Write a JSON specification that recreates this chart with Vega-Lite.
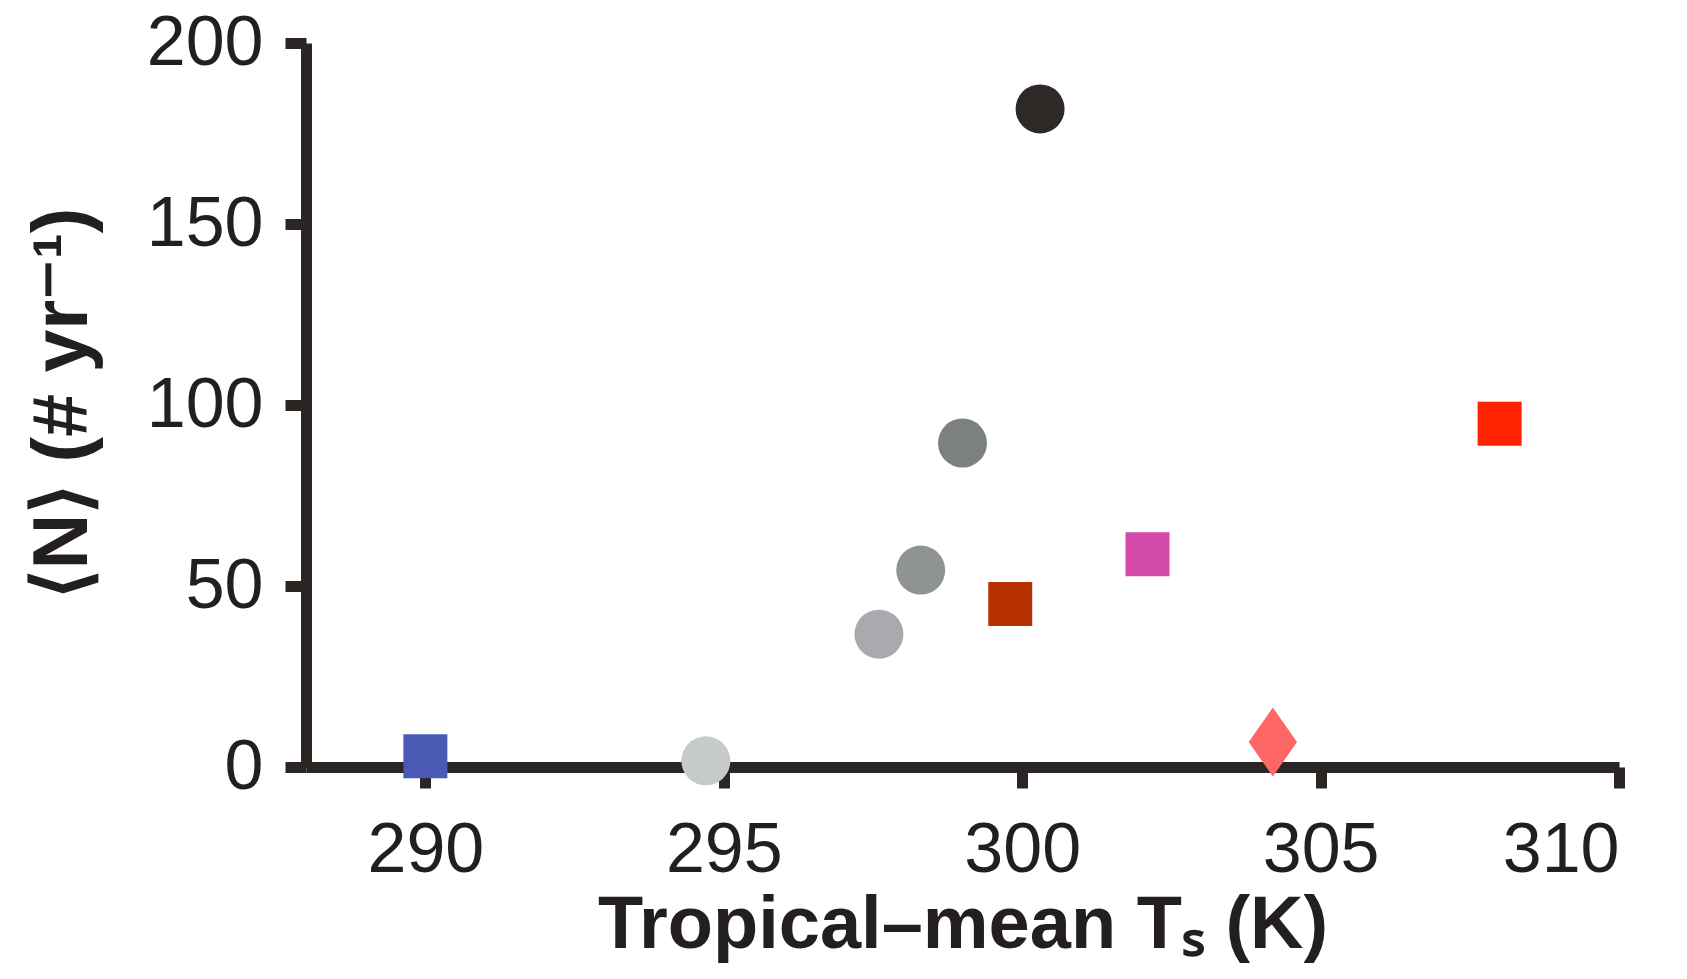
{
  "$schema": "https://vega.github.io/schema/vega-lite/v6.json",
  "width": 1313,
  "height": 724,
  "autosize": "none",
  "padding": {"left": 306, "top": 43, "right": 68, "bottom": 212},
  "background": "white",
  "config": {
    "view": {"stroke": null},
    "axis": {
      "grid": false,
      "domainColor": "#2b2523",
      "tickColor": "#2b2523",
      "domainWidth": 11,
      "tickWidth": 11,
      "tickSize": 21,
      "labelFont": "Liberation Sans",
      "labelFontSize": 70,
      "labelColor": "#231f20",
      "titleFont": "Liberation Sans",
      "titleFontWeight": "bold",
      "titleColor": "#231f20",
      "zindex": 1
    }
  },
  "data": {
    "values": [
      {"id": "A", "kind": "square", "T": 290.0, "N": 3},
      {"id": "B", "kind": "circle", "T": 294.7, "N": 1.7},
      {"id": "C", "kind": "circle", "T": 297.6, "N": 36.7},
      {"id": "D", "kind": "circle", "T": 298.3, "N": 54.4},
      {"id": "E", "kind": "circle", "T": 299.0, "N": 89.5},
      {"id": "F", "kind": "circle", "T": 300.3, "N": 181.8},
      {"id": "G", "kind": "square", "T": 299.8, "N": 45},
      {"id": "H", "kind": "square", "T": 302.1, "N": 58.8},
      {"id": "I", "kind": "square", "T": 308.0, "N": 94.8},
      {"id": "J", "kind": "diamond", "T": 304.2, "N": 6.9}
    ]
  },
  "encoding": {
    "x": {
      "field": "T", "type": "quantitative",
      "scale": {"domain": [288, 310], "nice": false, "zero": false},
      "axis": {
        "values": [290, 295, 300, 305, 310],
        "labelBaseline": "alphabetic",
        "labelPadding": 83,
        "title": "Tropical–mean Tₛ (K)",
        "titleFontSize": 74,
        "titleBaseline": "alphabetic",
        "titleY": 180
      }
    },
    "y": {
      "field": "N", "type": "quantitative",
      "scale": {"domain": [0, 200], "nice": false},
      "axis": {
        "values": [0, 50, 100, 150, 200],
        "labelPadding": 22,
        "title": "⟨N⟩ (# yr⁻¹)",
        "titleFontSize": 77,
        "titleAngle": -90,
        "titleAlign": "center",
        "titleBaseline": "middle",
        "titleX": -243,
        "titleY": 360
      }
    },
    "color": {
      "field": "id", "type": "nominal", "legend": null,
      "scale": {
        "domain": ["A", "B", "C", "D", "E", "F", "G", "H", "I", "J"],
        "range": ["#4a5ab4", "#c6cac9", "#aaaaae", "#8f9492", "#7c8080", "#2e2826", "#b53200", "#d34aa9", "#ff2300", "#ff6666"]
      }
    }
  },
  "layer": [
    {
      "transform": [{"filter": "datum.kind === 'circle'"}],
      "mark": {"type": "point", "shape": "circle", "filled": true, "opacity": 1, "size": 2400}
    },
    {
      "transform": [{"filter": "datum.kind === 'square'"}],
      "mark": {"type": "point", "shape": "square", "filled": true, "opacity": 1, "size": 1936}
    },
    {
      "transform": [{"filter": "datum.kind === 'diamond'"}],
      "mark": {"type": "point", "shape": "M0,-1L0.7,0L0,1L-0.7,0Z", "filled": true, "opacity": 1, "size": 4761}
    }
  ]
}
